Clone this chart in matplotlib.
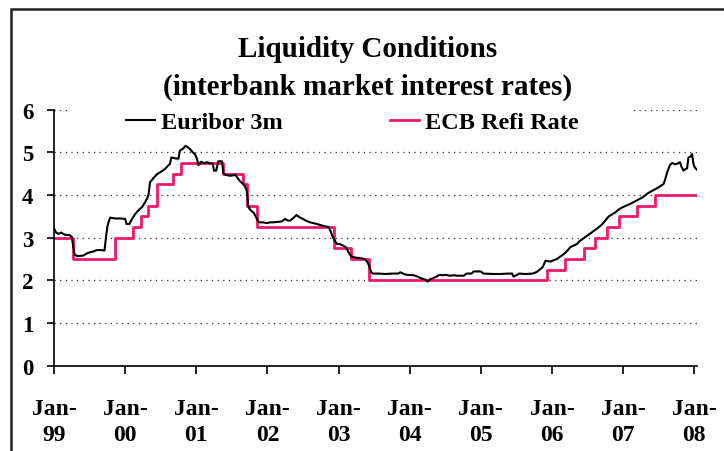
import matplotlib
matplotlib.use("Agg")
import matplotlib.pyplot as plt
from matplotlib.patches import Rectangle
import numpy as np

# Years measured from 1 January 1999
euribor_t = [0.00, 0.03, 0.06, 0.10, 0.15, 0.22, 0.25, 0.27, 0.29, 0.33, 0.41, 0.46,
             0.51, 0.56, 0.60, 0.66, 0.71, 0.73, 0.75, 0.77, 0.79, 0.86, 0.93, 1.00,
             1.02, 1.06, 1.10, 1.14, 1.18, 1.24, 1.28, 1.31, 1.33, 1.35, 1.40, 1.45,
             1.51, 1.56, 1.60, 1.63, 1.65, 1.70, 1.75, 1.77, 1.81, 1.85, 1.88, 1.91,
             1.95, 1.98, 2.01, 2.03, 2.07, 2.11, 2.15, 2.19, 2.23, 2.25, 2.28, 2.31,
             2.36, 2.38, 2.41, 2.48, 2.55, 2.58, 2.61, 2.65, 2.68, 2.71, 2.73, 2.75,
             2.78, 2.81, 2.84, 2.88, 2.94, 2.99, 3.04, 3.09, 3.14, 3.20, 3.25, 3.29,
             3.32, 3.37, 3.41, 3.45, 3.50, 3.54, 3.60, 3.65, 3.70, 3.74, 3.80, 3.86,
             3.89, 3.91, 3.95, 3.98, 4.02, 4.07, 4.11, 4.14, 4.18, 4.25, 4.31, 4.37,
             4.41, 4.43, 4.46, 4.48, 4.56, 4.66, 4.76, 4.84, 4.87, 4.92, 4.96, 5.06,
             5.11, 5.16, 5.22, 5.25, 5.29, 5.33, 5.39, 5.42, 5.47, 5.51, 5.56, 5.62,
             5.67, 5.76, 5.80, 5.87, 5.90, 6.00, 6.04, 6.18, 6.28, 6.38, 6.44, 6.46,
             6.50, 6.54, 6.63, 6.73, 6.79, 6.84, 6.87, 6.91, 6.98, 7.02, 7.07, 7.12,
             7.17, 7.22, 7.26, 7.35, 7.39, 7.44, 7.53, 7.60, 7.64, 7.71, 7.76, 7.80,
             7.85, 7.89, 7.94, 7.99, 8.10, 8.19, 8.28, 8.34, 8.39, 8.48, 8.53, 8.57,
             8.59, 8.62, 8.66, 8.69, 8.73, 8.76, 8.80, 8.82, 8.85, 8.88, 8.90, 8.92,
             8.95, 8.97, 8.99, 9.01, 9.04]
euribor_v = [3.22, 3.12, 3.09, 3.12, 3.07, 3.06, 3.02, 2.80, 2.60, 2.57, 2.58, 2.63,
             2.66, 2.68, 2.71, 2.71, 2.70, 3.00, 3.25, 3.38, 3.47, 3.45, 3.45, 3.44,
             3.32, 3.32, 3.45, 3.55, 3.63, 3.72, 3.83, 3.92, 4.02, 4.30, 4.40, 4.49,
             4.55, 4.61, 4.68, 4.73, 4.88, 4.86, 4.85, 5.04, 5.08, 5.15, 5.12, 5.08,
             5.00, 4.96, 4.85, 4.70, 4.78, 4.74, 4.77, 4.74, 4.74, 4.57, 4.57, 4.79,
             4.79, 4.53, 4.47, 4.45, 4.47, 4.40, 4.33, 4.27, 4.22, 4.10, 3.75, 3.67,
             3.62, 3.58, 3.48, 3.36, 3.36, 3.34, 3.36, 3.36, 3.37, 3.38, 3.44, 3.40,
             3.40, 3.47, 3.53, 3.48, 3.44, 3.40, 3.36, 3.34, 3.32, 3.30, 3.27, 3.25,
             3.15, 3.05, 2.92, 2.85, 2.85, 2.81, 2.77, 2.66, 2.56, 2.53, 2.52, 2.50,
             2.42, 2.34, 2.20, 2.16, 2.16, 2.15, 2.16, 2.16, 2.19, 2.15, 2.13, 2.12,
             2.09, 2.05, 2.02, 1.97, 2.03, 2.05, 2.10, 2.13, 2.12, 2.13, 2.11, 2.12,
             2.11, 2.11, 2.16, 2.16, 2.21, 2.21, 2.16, 2.15, 2.15, 2.16, 2.16, 2.09,
             2.12, 2.16, 2.15, 2.16, 2.20, 2.27, 2.31, 2.46, 2.44, 2.47, 2.50, 2.56,
             2.62, 2.70, 2.78, 2.85, 2.92, 2.98, 3.09, 3.17, 3.22, 3.32, 3.42, 3.50,
             3.55, 3.59, 3.66, 3.71, 3.79, 3.87, 3.95, 4.03, 4.08, 4.16, 4.21, 4.26,
             4.35, 4.53, 4.70, 4.75, 4.72, 4.73, 4.77, 4.67, 4.57, 4.61, 4.62, 4.88,
             4.90, 4.96, 4.73, 4.64, 4.59]

# ECB main refinancing rate: dates of change and the new level
ecb_t = [0.00, 0.27, 0.86, 1.11, 1.22, 1.32, 1.45, 1.68, 1.78, 2.37, 2.66, 2.71,
         2.86, 3.93, 4.18, 4.43, 6.93, 7.18, 7.45, 7.61, 7.78, 7.95, 8.20, 8.45, 9.04]
ecb_v = [3.00, 2.50, 3.00, 3.25, 3.50, 3.75, 4.25, 4.50, 4.75, 4.50, 4.25, 3.75,
         3.25, 2.75, 2.50, 2.00, 2.25, 2.50, 2.75, 3.00, 3.25, 3.50, 3.75, 4.00, 4.00]

year_labels = ["99", "00", "01", "02", "03", "04", "05", "06", "07", "08"]
y_ticks = [0, 1, 2, 3, 4, 5, 6]

W, H = 724, 452
fig = plt.figure(figsize=(W / 100, H / 100), dpi=100)
serif = ["Liberation Serif", "DejaVu Serif"]

# outer frame of the chart area
fig.patches.append(Rectangle((11 / W, -0.1), 1.2, 1 - 10 / H + 0.1,
                             transform=fig.transFigure, fill=False,
                             edgecolor="#222222", linewidth=1.8))

left, right, bottom, top = 54, 697, 366.8, 110.6
ax = fig.add_axes([left / W, 1 - bottom / H, (right - left) / W, (bottom - top) / H])

ax.plot(euribor_t, euribor_v, color="black", linewidth=1.5, label="Euribor 3m", zorder=3)
ax.step(ecb_t, ecb_v, where="post", color="#F0186C", linewidth=2.0,
        label="ECB Refi Rate", zorder=2)

ax.set_xlim(0, 9.04)
ax.set_ylim(0, 6)
ax.set_yticks(y_ticks)
ax.set_yticklabels([str(v) for v in y_ticks], fontfamily=serif, fontweight="bold", fontsize=16.5)
ax.set_xticks(np.arange(len(year_labels)))
ax.set_xticklabels(["Jan-\n" + y for y in year_labels], fontfamily=serif,
                   fontweight="bold", fontsize=17, linespacing=1.35)

for s in ("top", "right"):
    ax.spines[s].set_visible(False)
for s in ("left", "bottom"):
    ax.spines[s].set_linewidth(1.2)
ax.tick_params(axis="y", direction="out", length=5, width=1.2, pad=10)
ax.tick_params(axis="x", direction="out", length=6, width=1.2, pad=17)

ax.set_axisbelow(True)
ax.yaxis.grid(True, linestyle=(0, (1, 3.5)), color="#333333", linewidth=0.9)

# white background behind the legend row
ax.add_patch(Rectangle((16 / 643, 0.97), (632 - 70) / 643, 0.06, transform=ax.transAxes,
                       facecolor="white", edgecolor="none", zorder=1, clip_on=False))

leg = ax.legend(loc="center left", bbox_to_anchor=(126 / W, 1 - 123 / H),
                bbox_transform=fig.transFigure, ncol=2, frameon=False,
                prop={"family": serif, "weight": "bold", "size": 17.5},
                handlelength=1.2, handletextpad=0.25, columnspacing=4.4, borderpad=0,
                borderaxespad=0)

fig.text(368 / W, 1 - 36 / H, "Liquidity Conditions\n(interbank market interest rates)",
         ha="center", va="top", fontfamily=serif, fontweight="bold", fontsize=21,
         linespacing=1.5)

fig.savefig("out.png", dpi=100)
